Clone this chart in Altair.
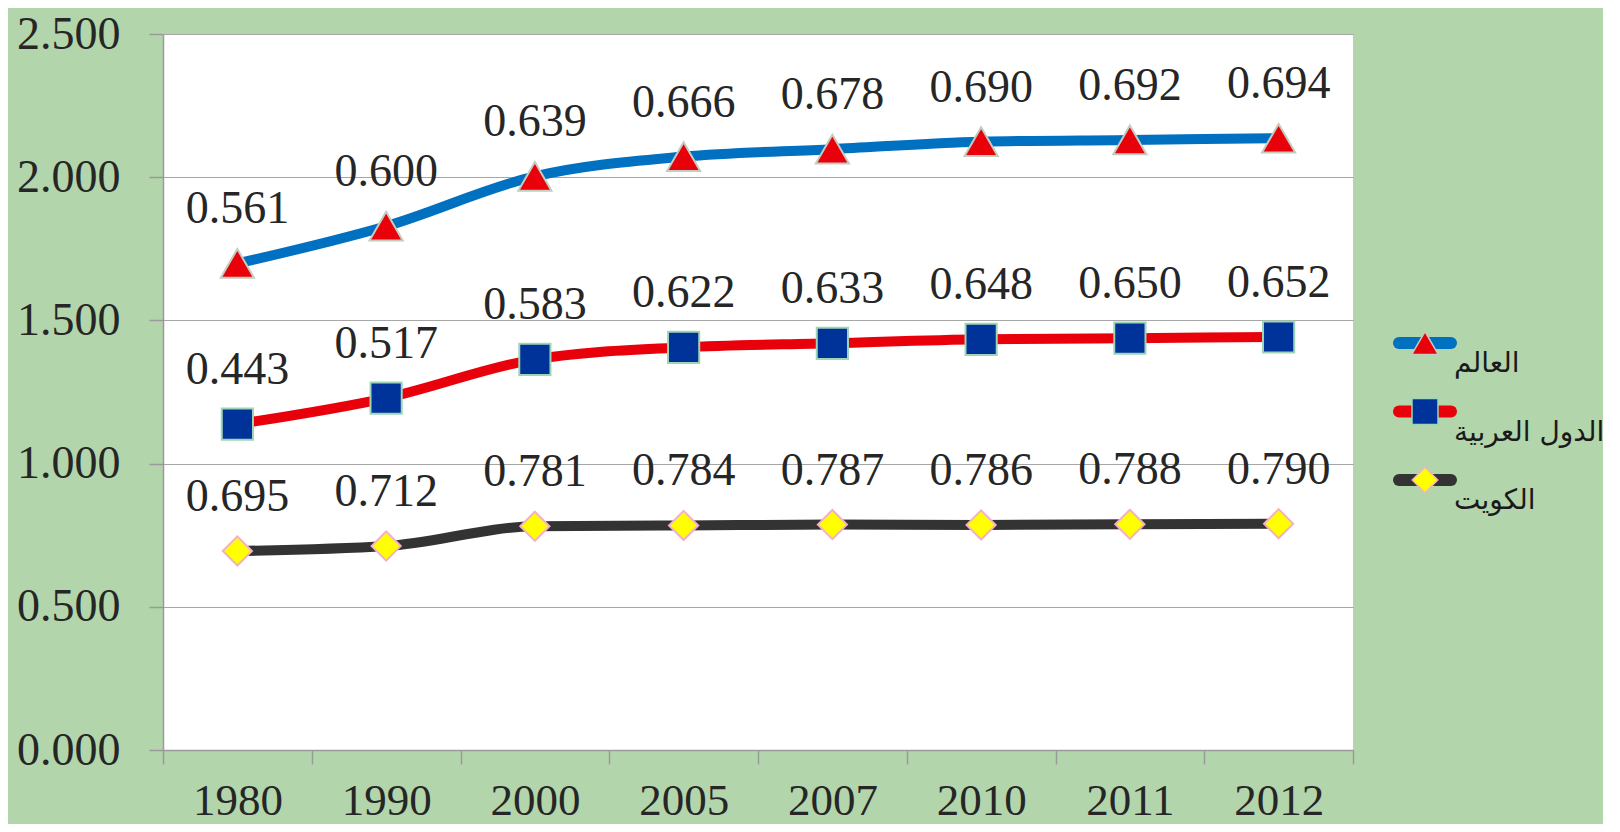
import altair as alt
import pandas as pd

years = ["1980", "1990", "2000", "2005", "2007", "2010", "2011", "2012"]
series = ["العالم", "الدول العربية", "الكويت"]
world = [0.561, 0.600, 0.639, 0.666, 0.678, 0.690, 0.692, 0.694]
arab = [0.443, 0.517, 0.583, 0.622, 0.633, 0.648, 0.650, 0.652]
kuwait = [0.695, 0.712, 0.781, 0.784, 0.787, 0.786, 0.788, 0.790]
stack_order = [2, 1, 0]  # Kuwait at the bottom, world on top

line_colors = ["#0070C0", "#E8000B", "#333333"]
marker_fills = ["#E8000B", "#003399", "#FFFF00"]
marker_strokes = ["#C4CCC0", "#9FD5B7", "#F4B0C4"]
marker_shapes = ["triangle-up", "square", "diamond"]
marker_sizes = [1100, 850, 1000]
legend_marker_sizes = [700, 650, 720]

rows = []
for name, vals, o in zip(series, [world, arab, kuwait], stack_order):
    for yr, v in zip(years, vals):
        rows.append({"year": yr, "series": name, "value": v, "order": o})
df = pd.DataFrame(rows)
legend_df = pd.DataFrame({"series": series})

serif = "Liberation Serif"
axis_gray = "#9a9a9a"
text_color = "#262626"

x = alt.X(
    "year:N",
    sort=years,
    scale=alt.Scale(type="band", paddingInner=0, paddingOuter=0),
    axis=alt.Axis(
        title=None, labelAngle=0, labelFont=serif, labelFontSize=45,
        labelColor=text_color, labelPadding=14, tickBand="extent",
        tickSize=14, tickColor=axis_gray, tickWidth=1.5,
        domainColor=axis_gray, domainWidth=1.5, grid=False,
    ),
)
y = alt.Y(
    "y1:Q",
    scale=alt.Scale(domain=[0, 2.5], nice=False, zero=True),
    axis=alt.Axis(
        title=None, values=[0, 0.5, 1, 1.5, 2, 2.5], format=".3f",
        labelFont=serif, labelFontSize=46, labelColor=text_color,
        labelPadding=29, tickSize=14, tickColor=axis_gray, tickWidth=1.5,
        domainColor=axis_gray, domainWidth=1.5,
        grid=True, gridColor="#a6a6a6", gridWidth=1.2,
    ),
)

color_scale = alt.Scale(domain=series, range=line_colors)
fill_scale = alt.Scale(domain=series, range=marker_fills)
stroke_scale = alt.Scale(domain=series, range=marker_strokes)
shape_scale = alt.Scale(domain=series, range=marker_shapes)

base = alt.Chart(df).transform_stack(
    stack="value", groupby=["year"], as_=["y0", "y1"],
    sort=[alt.SortField("order", order="ascending")],
)

lines = base.mark_line(strokeWidth=10, interpolate="monotone").encode(
    x=x, y=y,
    color=alt.Color("series:N", scale=color_scale, legend=None),
)
points = base.mark_point(filled=True, opacity=1, strokeWidth=2).encode(
    x=x, y=y,
    shape=alt.Shape("series:N", scale=shape_scale, legend=None),
    fill=alt.Fill("series:N", scale=fill_scale, legend=None),
    stroke=alt.Stroke("series:N", scale=stroke_scale, legend=None),
    size=alt.Size("series:O", scale=alt.Scale(domain=series, range=marker_sizes), legend=None),
)
labels = base.mark_text(
    font=serif, fontSize=46, color=text_color, dy=-40, baseline="alphabetic"
).encode(
    x=x, y=y,
    text=alt.Text("value:Q", format=".3f"),
)
main = alt.layer(lines, points, labels)

# legend drawn at the right of the plot
ly = alt.Y(
    "series:N", sort=series,
    scale=alt.Scale(type="point", domain=series, range=[309, 446], padding=0),
    axis=None,
)
leg_lines = alt.Chart(legend_df).mark_rule(strokeWidth=12, strokeCap="round").encode(
    x=alt.value(1236), x2=alt.value(1288), y=ly,
    color=alt.Color("series:N", scale=color_scale, legend=None),
)
leg_points = alt.Chart(legend_df).mark_point(filled=True, opacity=1, strokeWidth=1.5).encode(
    x=alt.value(1262), y=ly,
    shape=alt.Shape("series:N", scale=shape_scale, legend=None),
    fill=alt.Fill("series:N", scale=fill_scale, legend=None),
    stroke=alt.Stroke("series:N", scale=stroke_scale, legend=None),
    size=alt.Size("series:O", scale=alt.Scale(domain=series, range=legend_marker_sizes), legend=None),
)
leg_text = alt.Chart(legend_df).mark_text(
    align="left", baseline="top", dy=7, font="DejaVu Sans", fontSize=28, color="#1a1a1a"
).encode(
    x=alt.value(1291), y=ly, text="series:N",
)
legend = alt.layer(leg_lines, leg_points, leg_text)

chart = (
    alt.layer(main, legend)
    .resolve_scale(y="independent", size="independent")
    .properties(
        width=1190, height=716,
        autosize=alt.AutoSizeParams(type="none"),
        padding={"left": 155, "top": 26, "right": 250, "bottom": 74},
        background="#b3d5ab",
    )
    .configure_view(fill="white", stroke=None)
)

chart.save("out.html", embed_options={"renderer": "svg", "actions": False})
